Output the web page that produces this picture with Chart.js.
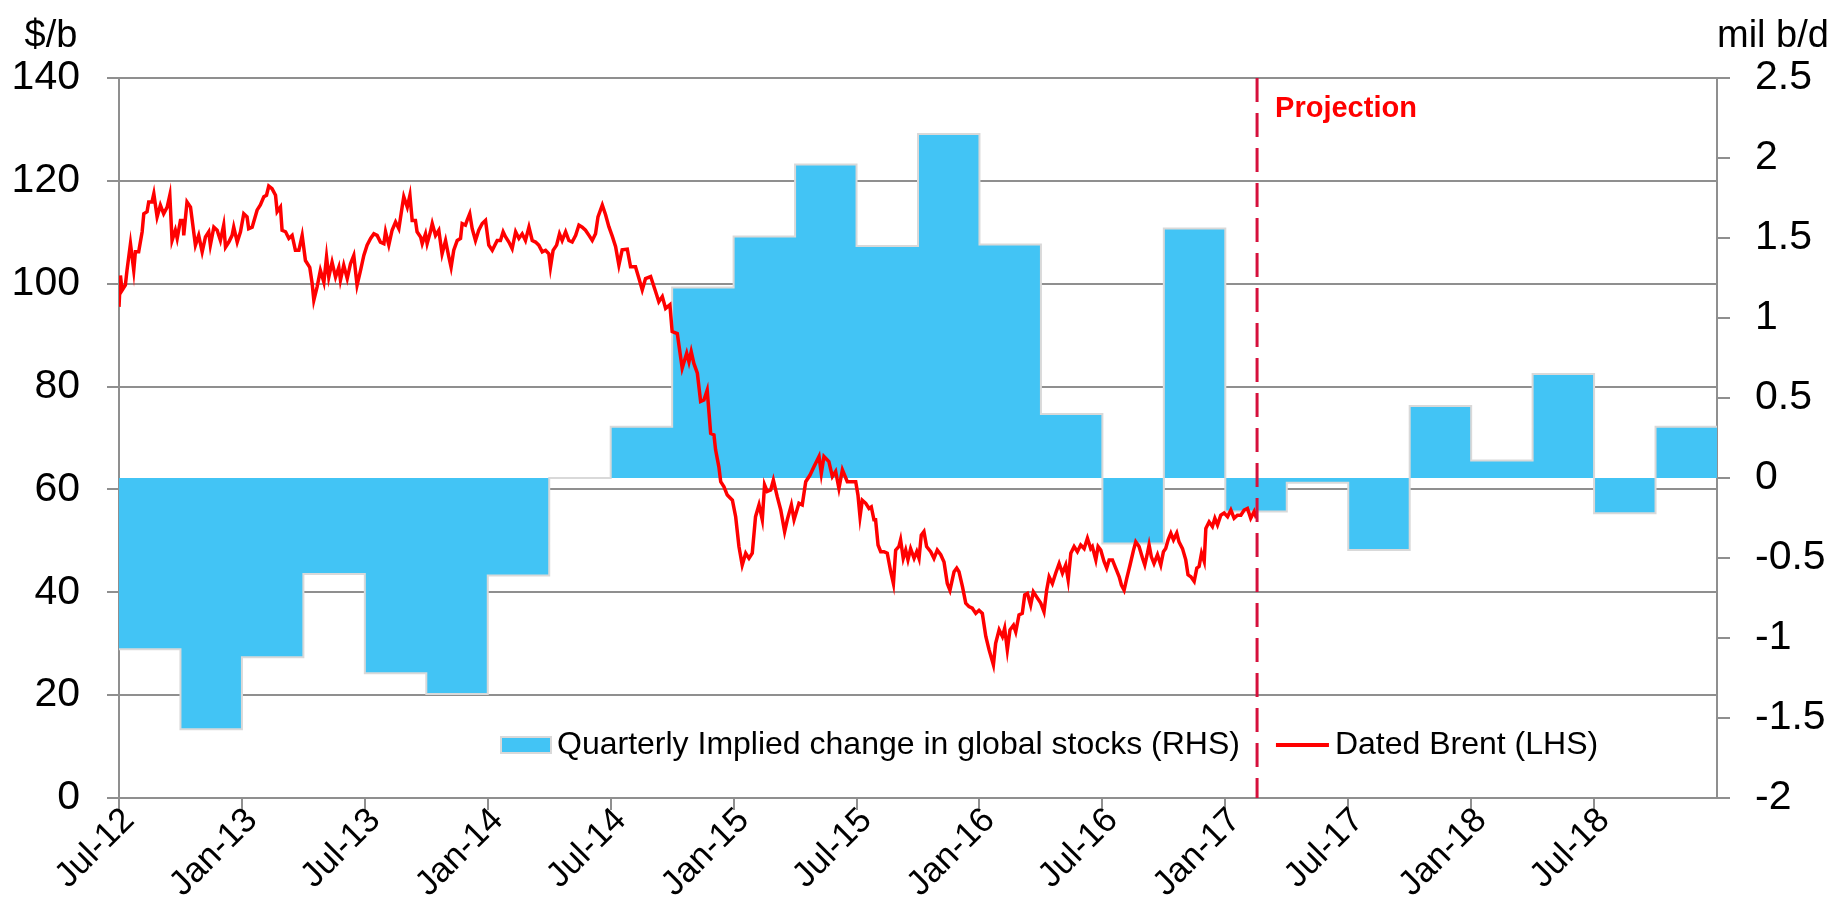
<!DOCTYPE html>
<html>
<head>
<meta charset="utf-8">
<script src="https://cdn.jsdelivr.net/npm/chart.js@4.4.1/dist/chart.umd.min.js"></script>
<style>
  html, body { margin: 0; padding: 0; background: #fff; }
  #wrap { width: 1845px; height: 908px; }
</style>
</head>
<body>
<div id="wrap"><canvas id="myChart"></canvas></div>
<script>
// x values are months counted from Jul-12
var tickLabels = ['Jul-12', 'Jan-13', 'Jul-13', 'Jan-14', 'Jul-14', 'Jan-15', 'Jul-15',
                  'Jan-16', 'Jul-16', 'Jan-17', 'Jul-17', 'Jan-18', 'Jul-18'];

var quarters = ['Q3-12', 'Q4-12', 'Q1-13', 'Q2-13', 'Q3-13', 'Q4-13', 'Q1-14', 'Q2-14', 'Q3-14',
                'Q4-14', 'Q1-15', 'Q2-15', 'Q3-15', 'Q4-15', 'Q1-16', 'Q2-16', 'Q3-16', 'Q4-16',
                'Q1-17', 'Q2-17', 'Q3-17', 'Q4-17', 'Q1-18', 'Q2-18', 'Q3-18', 'Q4-18'];
var stockChange = [-1.07, -1.57, -1.12, -0.60, -1.22, -1.35, -0.61, 0.0, 0.32,
                   1.19, 1.51, 1.96, 1.45, 2.15, 1.46, 0.40, -0.41, 1.56,
                   -0.21, -0.03, -0.45, 0.45, 0.11, 0.65, -0.22, 0.32];

var brentMonth = [
  0.00, 0.07, 0.15, 0.31, 0.39, 0.56, 0.72, 0.80, 0.96, 1.13, 1.21, 1.37, 1.45, 1.61, 1.70, 1.86, 2.02, 2.18, 2.35, 2.48,
  2.59, 2.75, 2.84, 3.00, 3.13, 3.16, 3.32, 3.49, 3.73, 3.89, 4.06, 4.22, 4.38, 4.46, 4.63, 4.79, 4.95, 5.11, 5.20, 5.36,
  5.52, 5.60, 5.77, 5.93, 6.09, 6.25, 6.33, 6.50, 6.74, 6.90, 7.07, 7.20, 7.31, 7.47, 7.64, 7.72, 7.88, 7.96, 8.13, 8.29,
  8.45, 8.61, 8.78, 8.94, 9.10, 9.31, 9.43, 9.51, 9.67, 9.83, 10.00, 10.13, 10.24, 10.40, 10.57, 10.73, 10.81, 10.97, 11.14, 11.30,
  11.46, 11.62, 11.79, 11.95, 12.11, 12.28,
  12.44, 12.60, 12.76, 12.93, 13.01, 13.17, 13.33, 13.50, 13.66, 13.82, 13.90, 14.07, 14.20, 14.31, 14.47, 14.55, 14.72, 14.80, 14.96, 15.04,
  15.20, 15.29, 15.45, 15.61, 15.77, 15.94, 16.10, 16.21, 16.34, 16.51, 16.67, 16.75, 16.91, 16.99, 17.12, 17.24, 17.40, 17.56, 17.73, 17.89,
  18.05, 18.22, 18.46, 18.62, 18.75, 18.87, 19.03, 19.19, 19.36, 19.52, 19.68, 19.84, 20.01, 20.17, 20.33, 20.49, 20.66, 20.82, 20.98, 21.06,
  21.19, 21.36, 21.50, 21.63, 21.80, 21.96, 22.12, 22.29, 22.45, 22.61, 22.77, 22.94, 23.10, 23.26, 23.38, 23.59,
  23.75, 23.91, 24.08, 24.24, 24.40, 24.56, 24.81, 24.97, 25.21, 25.38, 25.54, 25.70, 25.95, 26.19, 26.35, 26.52, 26.68, 26.89, 27.00, 27.25,
  27.49, 27.71, 27.82, 27.93, 28.06, 28.23, 28.39, 28.55, 28.71, 28.88, 29.04, 29.12, 29.28, 29.37, 29.53, 29.69, 29.94, 30.10, 30.26, 30.42,
  30.59, 30.75, 30.91, 31.07, 31.24, 31.40, 31.51, 31.64, 31.81, 31.94, 32.13, 32.30, 32.49, 32.62, 32.82, 32.95, 33.19, 33.35, 33.52, 33.73,
  33.92, 34.17, 34.28, 34.41, 34.65, 34.82, 34.98, 35.14, 35.31, 35.55,
  35.79, 35.96, 36.07, 36.17, 36.28, 36.45, 36.61, 36.72, 36.85, 36.93, 37.05, 37.18, 37.34, 37.50, 37.67, 37.80, 37.91, 38.07, 38.15, 38.28,
  38.40, 38.51, 38.64, 38.81, 38.94, 39.05, 39.16, 39.29, 39.42, 39.62, 39.78, 39.94, 40.11, 40.27, 40.43, 40.56, 40.76, 40.89, 41.00, 41.17,
  41.33, 41.49, 41.65, 41.82, 41.98, 42.14, 42.31, 42.47, 42.68, 42.79, 42.96, 43.12, 43.23, 43.36, 43.49, 43.66, 43.77, 43.93, 44.09, 44.21,
  44.34, 44.50, 44.63, 44.79, 44.99, 45.15, 45.28, 45.40, 45.56, 45.72, 45.89, 46.05, 46.21, 46.33, 46.46, 46.62, 46.78, 46.94, 47.11, 47.27,
  47.43,
  47.51, 47.68, 47.79, 47.92, 48.08, 48.21, 48.33, 48.49, 48.65, 48.82, 48.93, 49.06, 49.19, 49.35, 49.52, 49.63, 49.79, 49.96, 50.07, 50.20,
  50.28, 50.39, 50.52, 50.69, 50.85, 50.98, 51.09, 51.21, 51.34, 51.47, 51.63, 51.74, 51.91, 52.07, 52.18, 52.32, 52.48, 52.61, 52.72, 52.84,
  52.97, 53.05, 53.21, 53.37, 53.49, 53.62, 53.78, 53.94, 54.11, 54.27, 54.43, 54.59, 54.76, 54.92, 55.08, 55.24, 55.41, 55.52
];
var brentPrice = [
  95.5, 101.6, 98.7, 99.7, 102.6, 107.8, 102.6, 106.2, 106.2, 110.1, 113.6, 114.0, 115.9, 115.9, 117.5, 113.0, 115.3, 113.6, 114.9, 117.2,
  108.4, 110.4, 108.8, 112.3, 112.3, 109.4, 115.9, 114.9, 107.5, 109.4, 106.2, 109.1, 110.1, 107.5, 111.0, 110.4, 108.4, 111.4, 107.1, 108.1,
  109.4, 111.0, 108.1, 110.1, 113.6, 113.0, 110.7, 111.0, 114.3, 115.3, 116.9, 117.2, 119.0, 118.5, 117.2, 114.0, 114.9, 110.4, 110.1, 108.8,
  109.4, 106.5, 106.5, 109.4, 104.5, 103.2, 100.0, 96.8, 99.4, 102.6, 100.3, 105.2, 101.3, 104.2, 101.3, 103.2, 100.7, 103.6, 101.0, 103.9,
  105.5, 99.7, 102.6, 105.5, 107.5, 108.8,
  109.7, 109.4, 108.1, 107.8, 110.1, 107.5, 110.4, 112.0, 110.7, 114.9, 116.9, 114.9, 117.2, 112.3, 112.3, 110.1, 109.1, 107.8, 109.7, 107.8,
  110.1, 111.7, 109.4, 110.4, 105.8, 108.4, 105.2, 103.2, 106.5, 108.4, 108.8, 111.7, 111.4, 112.3, 113.6, 110.7, 108.4, 110.4, 111.7, 112.3,
  107.5, 106.5, 108.4, 108.4, 110.1, 109.1, 108.1, 106.8, 110.1, 108.8, 109.7, 108.4, 111.0, 108.4, 108.1, 107.5, 106.2, 106.5, 105.8, 103.2,
  106.5, 107.5, 109.7, 108.4, 110.1, 108.4, 108.1, 109.4, 111.4, 111.0, 110.4, 109.4, 108.4, 109.7, 113.0, 115.3,
  113.4, 111.1, 109.2, 107.2, 103.6, 106.6, 106.7, 103.3, 103.3, 101.0, 98.8, 101.0, 101.4, 98.5, 96.5, 97.5, 95.2, 95.9, 90.7, 90.3,
  83.6, 86.5, 84.8, 86.8, 84.5, 82.6, 77.1, 77.4, 79.3, 70.9, 70.6, 67.7, 64.4, 61.5, 60.5, 58.9, 57.9, 54.7, 48.9, 45.3,
  47.6, 46.6, 47.6, 54.7, 57.0, 54.1, 60.9, 59.6, 59.9, 61.8, 58.6, 56.0, 51.8, 54.1, 57.0, 54.1, 57.3, 57.0, 61.5, 62.8,
  64.4, 66.4, 63.1, 66.4, 65.4, 62.5, 63.5, 60.2, 63.8, 61.5,
  61.5, 61.5, 58.9, 54.7, 57.9, 57.3, 56.3, 56.6, 54.1, 54.1, 49.2, 47.9, 47.9, 47.6, 44.0, 41.7, 48.2, 48.9, 50.2, 46.6,
  48.2, 46.3, 48.5, 46.6, 47.9, 46.6, 51.1, 51.8, 48.9, 47.9, 46.6, 48.2, 47.3, 45.9, 41.7, 40.4, 44.0, 44.7, 44.0, 41.1,
  37.9, 37.2, 36.9, 35.9, 36.5, 35.9, 31.4, 28.8, 25.9, 30.1, 32.7, 31.4, 33.0, 28.8, 32.7, 33.6, 32.3, 35.6, 35.9, 39.5,
  39.8, 37.5, 40.1, 39.1, 37.9, 36.2, 40.4, 43.0, 41.7, 43.7, 45.6, 43.7, 45.3, 42.4, 47.6, 48.9, 47.9, 49.2, 48.5, 50.5,
  48.5,
  48.9, 46.3, 48.9, 48.2, 46.0, 44.7, 46.3, 46.3, 44.7, 43.0, 41.4, 40.4, 42.7, 45.3, 48.2, 49.8, 48.9, 46.6, 45.3, 47.6,
  49.2, 46.9, 45.6, 47.3, 45.3, 47.9, 48.5, 50.2, 51.5, 50.2, 51.5, 49.8, 48.5, 46.3, 43.4, 43.0, 42.1, 44.7, 45.0, 47.6,
  46.0, 52.4, 53.7, 52.8, 54.4, 53.1, 55.0, 55.4, 54.7, 56.0, 54.4, 55.0, 55.0, 56.0, 56.3, 54.4, 55.7, 54.4
];

var projectionStart = 55.55;

var fontFamily = '"Liberation Sans", Arial, sans-serif';
var gridColor = '#8f8f8f';

// step area: each quarter value holds until the next quarter starts
var stockPoints = quarters.map(function (q, i) { return { x: i * 3, y: stockChange[i] }; });
stockPoints.push({ x: quarters.length * 3, y: stockChange[stockChange.length - 1] });

var brentPoints = brentMonth.map(function (m, i) { return { x: m, y: brentPrice[i] }; });

// dashed projection marker, unit labels and the legend inside the plot
var overlay = {
  id: 'overlay',
  afterDatasetsDraw: function (chart) {
    var ctx = chart.ctx;
    var a = chart.chartArea;
    var px = chart.scales.x.getPixelForValue(projectionStart);
    var ds = chart.data.datasets;

    ctx.save();
    ctx.strokeStyle = '#d6103c';
    ctx.lineWidth = 3;
    ctx.setLineDash([24, 11]);
    ctx.beginPath();
    ctx.moveTo(px, a.top);
    ctx.lineTo(px, a.bottom);
    ctx.stroke();
    ctx.setLineDash([]);

    ctx.textBaseline = 'middle';
    ctx.fillStyle = '#ff0000';
    ctx.font = 'bold 29px ' + fontFamily;
    ctx.textAlign = 'left';
    ctx.fillText('Projection', px + 18, a.top + 31);

    ctx.fillStyle = '#000';
    ctx.font = '38px ' + fontFamily;
    ctx.textAlign = 'center';
    ctx.fillText('$/b', 51, 37);
    ctx.textAlign = 'left';
    ctx.fillText('mil b/d', a.right, 37);

    // legend
    var ly = a.bottom - 53;
    var lx = 501;
    ctx.font = '32px ' + fontFamily;
    ctx.fillStyle = ds[1].backgroundColor;
    ctx.fillRect(lx, ly - 8, 50, 16);
    ctx.strokeStyle = ds[1].borderColor;
    ctx.lineWidth = 2;
    ctx.strokeRect(lx, ly - 8, 50, 16);
    ctx.fillStyle = '#000';
    ctx.fillText(ds[1].label, lx + 56, ly);
    var lx2 = lx + 56 + ctx.measureText(ds[1].label).width + 36;
    ctx.strokeStyle = ds[0].borderColor;
    ctx.lineWidth = 4;
    ctx.beginPath();
    ctx.moveTo(lx2, ly);
    ctx.lineTo(lx2 + 53, ly);
    ctx.stroke();
    ctx.fillText(ds[0].label, lx2 + 59, ly);
    ctx.restore();
  }
};

Chart.defaults.font.family = fontFamily;
Chart.defaults.color = '#000';

var ctx = document.getElementById('myChart');
var myChart = new Chart(ctx, {
  type: 'line',
  data: {
    datasets: [{
      label: 'Dated Brent (LHS)',
      data: brentPoints,
      yAxisID: 'y',
      borderColor: '#ff0000',
      borderWidth: 3.5,
      pointRadius: 0,
      fill: false,
      order: 0
    }, {
      label: 'Quarterly Implied change in global stocks (RHS)',
      data: stockPoints,
      yAxisID: 'y1',
      stepped: 'before',
      fill: 'origin',
      backgroundColor: '#42c4f5',
      borderColor: '#d9d9d9',
      borderWidth: 2,
      pointRadius: 0,
      order: 1
    }]
  },
  options: {
    responsive: true,
    maintainAspectRatio: false,
    animation: false,
    layout: { padding: { top: 78, left: 0, right: 0, bottom: 0 } },
    plugins: {
      legend: { display: false },
      tooltip: { enabled: false }
    },
    scales: {
      x: {
        type: 'linear',
        min: 0,
        max: 78,
        afterBuildTicks: function (scale) {
          scale.ticks = tickLabels.map(function (t, i) { return { value: i * 6 }; });
        },
        afterFit: function (scale) { scale.height = 110; },
        ticks: {
          autoSkip: false,
          minRotation: 45,
          maxRotation: 45,
          padding: -10,
          labelOffset: 10,
          font: { size: 35 },
          callback: function (v, i) { return tickLabels[i]; }
        },
        grid: { drawOnChartArea: false, tickLength: 12, color: gridColor, lineWidth: 2 },
        border: { color: gridColor, width: 2 }
      },
      y: {
        position: 'left',
        min: 0,
        max: 140,
        afterFit: function (scale) { scale.width = 119; },
        ticks: {
          stepSize: 20,
          padding: 27,
          font: { size: 41 },
          callback: function (v) { return String(v); }
        },
        grid: { color: gridColor, lineWidth: 2, tickLength: 12 },
        border: { color: gridColor, width: 2 }
      },
      y1: {
        position: 'right',
        min: -2,
        max: 2.5,
        afterFit: function (scale) { scale.width = 128; },
        ticks: {
          stepSize: 0.5,
          padding: 25,
          font: { size: 41 },
          callback: function (v) { return String(v); }
        },
        grid: { drawOnChartArea: false, tickLength: 13, color: gridColor, lineWidth: 2 },
        border: { color: gridColor, width: 2 }
      }
    }
  },
  plugins: [overlay]
});
</script>
</body>
</html>
